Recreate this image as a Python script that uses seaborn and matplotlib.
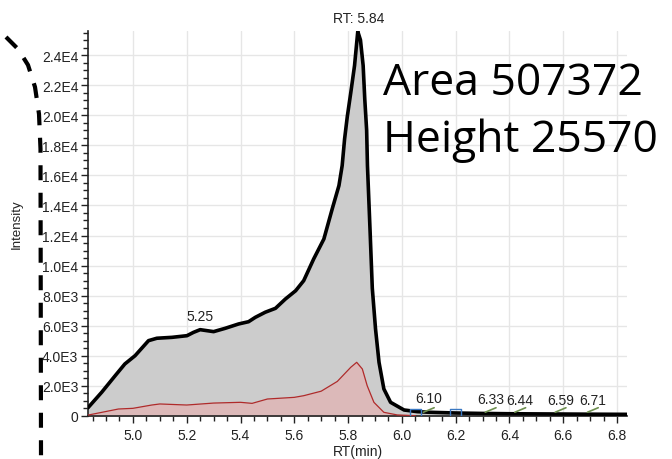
import numpy as np
import pandas as pd
import matplotlib
matplotlib.use("Agg")
import matplotlib.pyplot as plt
import seaborn as sns
from matplotlib.ticker import FixedLocator, FixedFormatter, MultipleLocator
from matplotlib.lines import Line2D

# ---------------- data ----------------
rt_total = [4.833, 4.884, 4.934, 4.970, 5.008, 5.058, 5.089, 5.145, 5.201, 5.225,
            5.250, 5.300, 5.343, 5.393, 5.430, 5.455, 5.492, 5.530, 5.567, 5.605,
            5.635, 5.672, 5.710, 5.741, 5.766, 5.778, 5.787, 5.797, 5.810, 5.824,
            5.836, 5.846, 5.856, 5.862, 5.869, 5.872, 5.882, 5.890, 5.902, 5.915,
            5.933, 5.958, 6.008, 6.057, 6.100, 6.200, 6.300, 6.400, 6.500, 6.600,
            6.700, 6.837]
int_total = [550, 1580, 2680, 3460, 4010, 5010, 5170, 5230, 5340, 5560,
             5740, 5610, 5830, 6120, 6270, 6560, 6900, 7160, 7780, 8330,
             9000, 10440, 11770, 13770, 15320, 16650, 18420, 19900, 21500, 23300,
             25570, 25000, 23300, 21080, 19000, 16650, 12200, 8500, 5790, 3570,
             1800, 910, 400, 290, 250, 200, 170, 150, 140, 130,
             120, 110]

rt_frag = [4.833, 4.900, 4.946, 5.000, 5.070, 5.100, 5.200, 5.300, 5.400, 5.443,
           5.500, 5.600, 5.635, 5.700, 5.760, 5.810, 5.832, 5.853, 5.871, 5.896,
           5.933, 5.983, 6.050]
int_frag = [60, 300, 465, 510, 730, 800, 730, 860, 910, 840,
            1130, 1240, 1350, 1650, 2300, 3240, 3570, 3125, 2015, 910,
            245, 70, 20]

peak_labels = ["5.25", "RT: 5.84", "6.10", "6.33", "6.44", "6.59", "6.71"]
peak_rt = [5.25, 5.84, 6.10, 6.33, 6.44, 6.59, 6.71]
peak_int = [5740, 25570, 250, 170, 150, 135, 125]
minor_peaks = [6.10, 6.33, 6.44, 6.59, 6.71]

x_ticks = [5.0, 5.2, 5.4, 5.6, 5.8, 6.0, 6.2, 6.4, 6.6, 6.8]
x_ticklabels = ["5.0", "5.2", "5.4", "5.6", "5.8", "6.0", "6.2", "6.4", "6.6", "6.8"]
y_ticks = [0, 2000, 4000, 6000, 8000, 10000, 12000, 14000, 16000, 18000, 20000, 22000, 24000]
y_ticklabels = ["0", "2.0E3", "4.0E3", "6.0E3", "8.0E3", "1.0E4", "1.2E4", "1.4E4",
                "1.6E4", "1.8E4", "2.0E4", "2.2E4", "2.4E4"]

area_text = "Area 507372"
height_text = "Height 25570"

# ---------------- plot ----------------
sns.set_theme(style="white")
plt.rcParams['font.family'] = ['Liberation Sans', 'DejaVu Sans']

df_total = pd.DataFrame({"RT": rt_total, "I": int_total})
df_frag = pd.DataFrame({"RT": rt_frag, "I": int_frag})

fig = plt.figure(figsize=(6.72, 4.60), dpi=100)
ax = fig.add_axes([88/672, 1 - 417/460, (627 - 88)/672, (417 - 32)/460])

ax.fill_between(df_total["RT"], df_total["I"], 0, color="#cccccc", lw=0, zorder=1)
ax.fill_between(df_frag["RT"], df_frag["I"], 0, color="#dcb9b9", lw=0, zorder=2)
sns.lineplot(data=df_frag, x="RT", y="I", ax=ax, color="#b02a2a", lw=0.9,
             sort=False, zorder=3)
sns.lineplot(data=df_total, x="RT", y="I", ax=ax, color="black", lw=2.6,
             sort=False, zorder=4, solid_joinstyle="round")

# small peak markers near baseline
for rt in minor_peaks:
    ax.plot([rt - 0.02, rt + 0.02], [250, 550], color="#6e8f4f", lw=1.2, zorder=5)
for rt in [6.05, 6.20]:
    ax.plot([rt - 0.02, rt - 0.02, rt + 0.02, rt + 0.02], [0, 450, 450, 0],
            color="#3a78c2", lw=1.0, zorder=5)

ax.set_xlim(4.833, 6.837)
ax.set_ylim(0, 25600)

ax.xaxis.set_major_locator(FixedLocator(x_ticks))
ax.xaxis.set_major_formatter(FixedFormatter(x_ticklabels))
ax.xaxis.set_minor_locator(MultipleLocator(0.05))
ax.yaxis.set_major_locator(FixedLocator(y_ticks))
ax.yaxis.set_major_formatter(FixedFormatter(y_ticklabels))
ax.yaxis.set_minor_locator(MultipleLocator(500))

ax.grid(True, which="major", color="#e6e6e6", lw=1.0, zorder=0)
ax.set_axisbelow(True)
for s in ["top", "right"]:
    ax.spines[s].set_visible(False)
for s in ["left", "bottom"]:
    ax.spines[s].set_color("#222222")
    ax.spines[s].set_linewidth(1.2)

ax.tick_params(which="major", direction="out", length=5, width=1.0, color="#222222",
               labelsize=10, labelcolor="#222222", bottom=True, left=True, pad=2)
ax.tick_params(axis="x", which="major", pad=4)
ax.tick_params(which="minor", direction="out", length=3.5, width=1.0, color="#222222",
               bottom=True, left=True)

ax.set_xlabel("RT(min)", fontsize=10, color="#222222", labelpad=1)
ax.set_ylabel("Intensity", fontsize=9.5, color="#222222", labelpad=14)

# peak labels
for lab, rt, iv in zip(peak_labels, peak_rt, peak_int):
    ax.annotate(lab, (rt, iv), xytext=(0, 5), textcoords="offset points",
                ha="center", va="bottom", fontsize=10, color="#222222",
                annotation_clip=False)

# big area/height text
fig.text(383/672, 1 - 95/460, area_text, fontsize=32, family="Open Sans",
         color="black", ha="left", va="baseline")
fig.text(383/672, 1 - 152/460, height_text, fontsize=32, family="Open Sans",
         color="black", ha="left", va="baseline")

# dashed annotation arc at left
arc_x = [6, 18, 28, 35, 39, 40.5, 41]
arc_y = [38, 50, 66, 88, 115, 150, 460]
line = Line2D([x / 672 for x in arc_x], [1 - y / 460 for y in arc_y],
              transform=fig.transFigure, color="black", lw=3.0,
              linestyle=(0, (3.6, 3.0)), solid_capstyle="butt")
fig.add_artist(line)

fig.savefig("out.png", dpi=100)
